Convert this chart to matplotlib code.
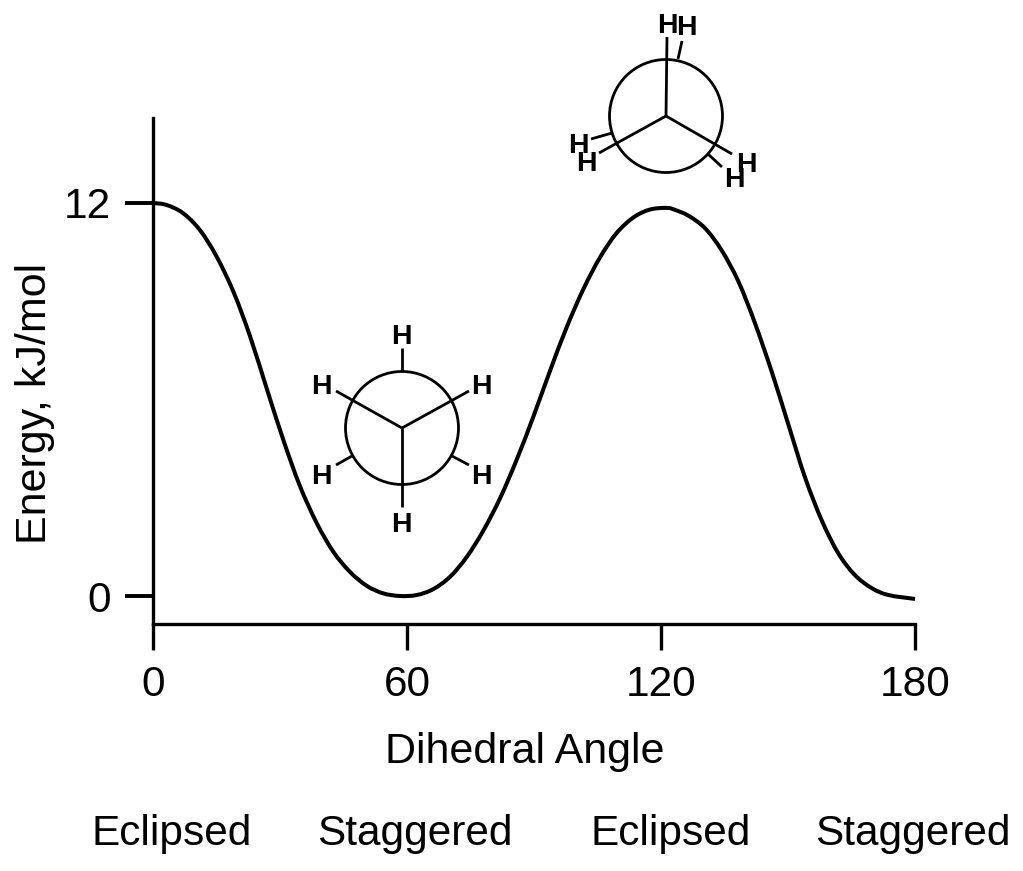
# -*- coding: utf-8 -*-
"""
Energy of ethane against dihedral angle, with Newman projections
"""
import matplotlib
matplotlib.use('Agg')
import matplotlib.pyplot as plt
from matplotlib.path import Path
from matplotlib.patches import PathPatch

# =============================== Data ================================ #
angle = [0, 3.2, 7.1, 11.1, 15.0, 19.0, 22.9, 26.9, 30.8, 34.7, 38.7, 42.6,
         46.5, 50.5, 54.4, 58.4, 62.3, 66.2, 70.2, 74.1, 78.0, 82.0, 85.9,
         89.8, 93.8, 97.7, 101.7, 105.6, 109.5, 113.5, 117.4, 121.4, 123.3,
         126.5, 130.4, 134.3, 138.3, 142.2, 146.2, 150.1, 154.0, 158.0, 161.9,
         165.8, 169.8, 173.7, 180]
energy = [12.0, 11.94, 11.69, 11.17, 10.37, 9.29, 7.94, 6.32, 4.76, 3.36, 2.22,
          1.35, 0.74, 0.31, 0.08, 0.0, 0.03, 0.21, 0.59, 1.19, 1.99, 2.99, 4.16,
          5.46, 6.88, 8.20, 9.38, 10.34, 11.08, 11.56, 11.80, 11.85, 11.79,
          11.61, 11.23, 10.56, 9.60, 8.33, 6.83, 5.23, 3.63, 2.30, 1.30,
          0.64, 0.24, 0.03, -0.09]
x_ticks = [0, 60, 120, 180]
y_ticks = [0, 12]
conformations = ['Eclipsed', 'Staggered', 'Eclipsed', 'Staggered']

# =============================== Figure ============================== #
plt.rcParams['font.family'] = ['Liberation Sans', 'DejaVu Sans']
W, H = 1023, 871
fig = plt.figure(figsize=(W/100, H/100), dpi=100)

# axes placed in pixels: x axis at y=624, left axis from 118 to 624
ax = fig.add_axes([153/W, (H-624)/H, 762/W, (624-118)/H])
ax.set_xlim(0, 180)
ax.set_ylim(-28/32.75, 12 + 85/32.75)

# the curve goes through every read point, with bezier segments so it has no kinks
verts = [(angle[0], energy[0])]
codes = [Path.MOVETO]
n = len(angle)
for i in range(n-1):
    a = max(i-1, 0)
    d = min(i+2, n-1)
    verts.append((angle[i] + (angle[i+1]-angle[a])/6, energy[i] + (energy[i+1]-energy[a])/6))
    verts.append((angle[i+1] - (angle[d]-angle[i])/6, energy[i+1] - (energy[d]-energy[i])/6))
    verts.append((angle[i+1], energy[i+1]))
    codes += [Path.CURVE4, Path.CURVE4, Path.CURVE4]
ax.add_patch(PathPatch(Path(verts, codes), fill=False, ec='black', lw=2.9, capstyle='butt', clip_on=False))

for side in ['top', 'right']:
    ax.spines[side].set_visible(False)
for side in ['left', 'bottom']:
    ax.spines[side].set_linewidth(2.4)
ax.set_xticks(x_ticks)
ax.set_yticks(y_ticks)
ax.tick_params(axis='x', length=18.7, width=2.4, labelsize=30.5, pad=11)
ax.tick_params(axis='y', length=20, width=2.8, labelsize=30.5, pad=10)

# pixel overlay for the labels underneath and the Newman projections
over = fig.add_axes([0, 0, 1, 1], facecolor='none')
over.set_xlim(0, W)
over.set_ylim(H, 0)
over.axis('off')

over.text(525, 752, 'Dihedral Angle', fontsize=31, ha='center', va='center')
over.text(35, 403, 'Energy, kJ/mol', fontsize=31, rotation=90, ha='center', va='center')
for name, cx in zip(conformations, [172, 415, 671, 913]):
    over.text(cx, 834, name, fontsize=30.5, ha='center', va='center')


def newman(c, bonds, stubs, labels):
    over.add_patch(plt.Circle(c, 56.5, fill=False, ec='black', lw=2))
    for b in bonds:
        over.plot([c[0], b[0]], [c[1], b[1]], color='black', lw=2, solid_capstyle='butt')
    for s in stubs:
        over.plot([s[0], s[2]], [s[1], s[3]], color='black', lw=2, solid_capstyle='butt')
    for p in labels:
        over.text(p[0], p[1], 'H', fontsize=20.5, fontweight='bold', ha='center', va='center_baseline')


# staggered form
newman((402, 428),
       [(336, 391), (469, 391), (402, 507)],
       [(402, 371, 402, 348), (352, 456, 336, 465), (452, 456, 469, 465)],
       [(401, 334), (321, 384), (481, 384), (321, 474), (481, 474), (401, 522)])
# eclipsed form
newman((666, 116),
       [(667, 37), (599, 153), (732, 154)],
       [(678, 59, 682, 41), (612, 133, 591, 139), (708, 154, 722, 167)],
       [(667, 23), (686, 25), (578, 143), (586, 161), (746, 162), (734, 177)])

fig.savefig('out.png', dpi=100)
